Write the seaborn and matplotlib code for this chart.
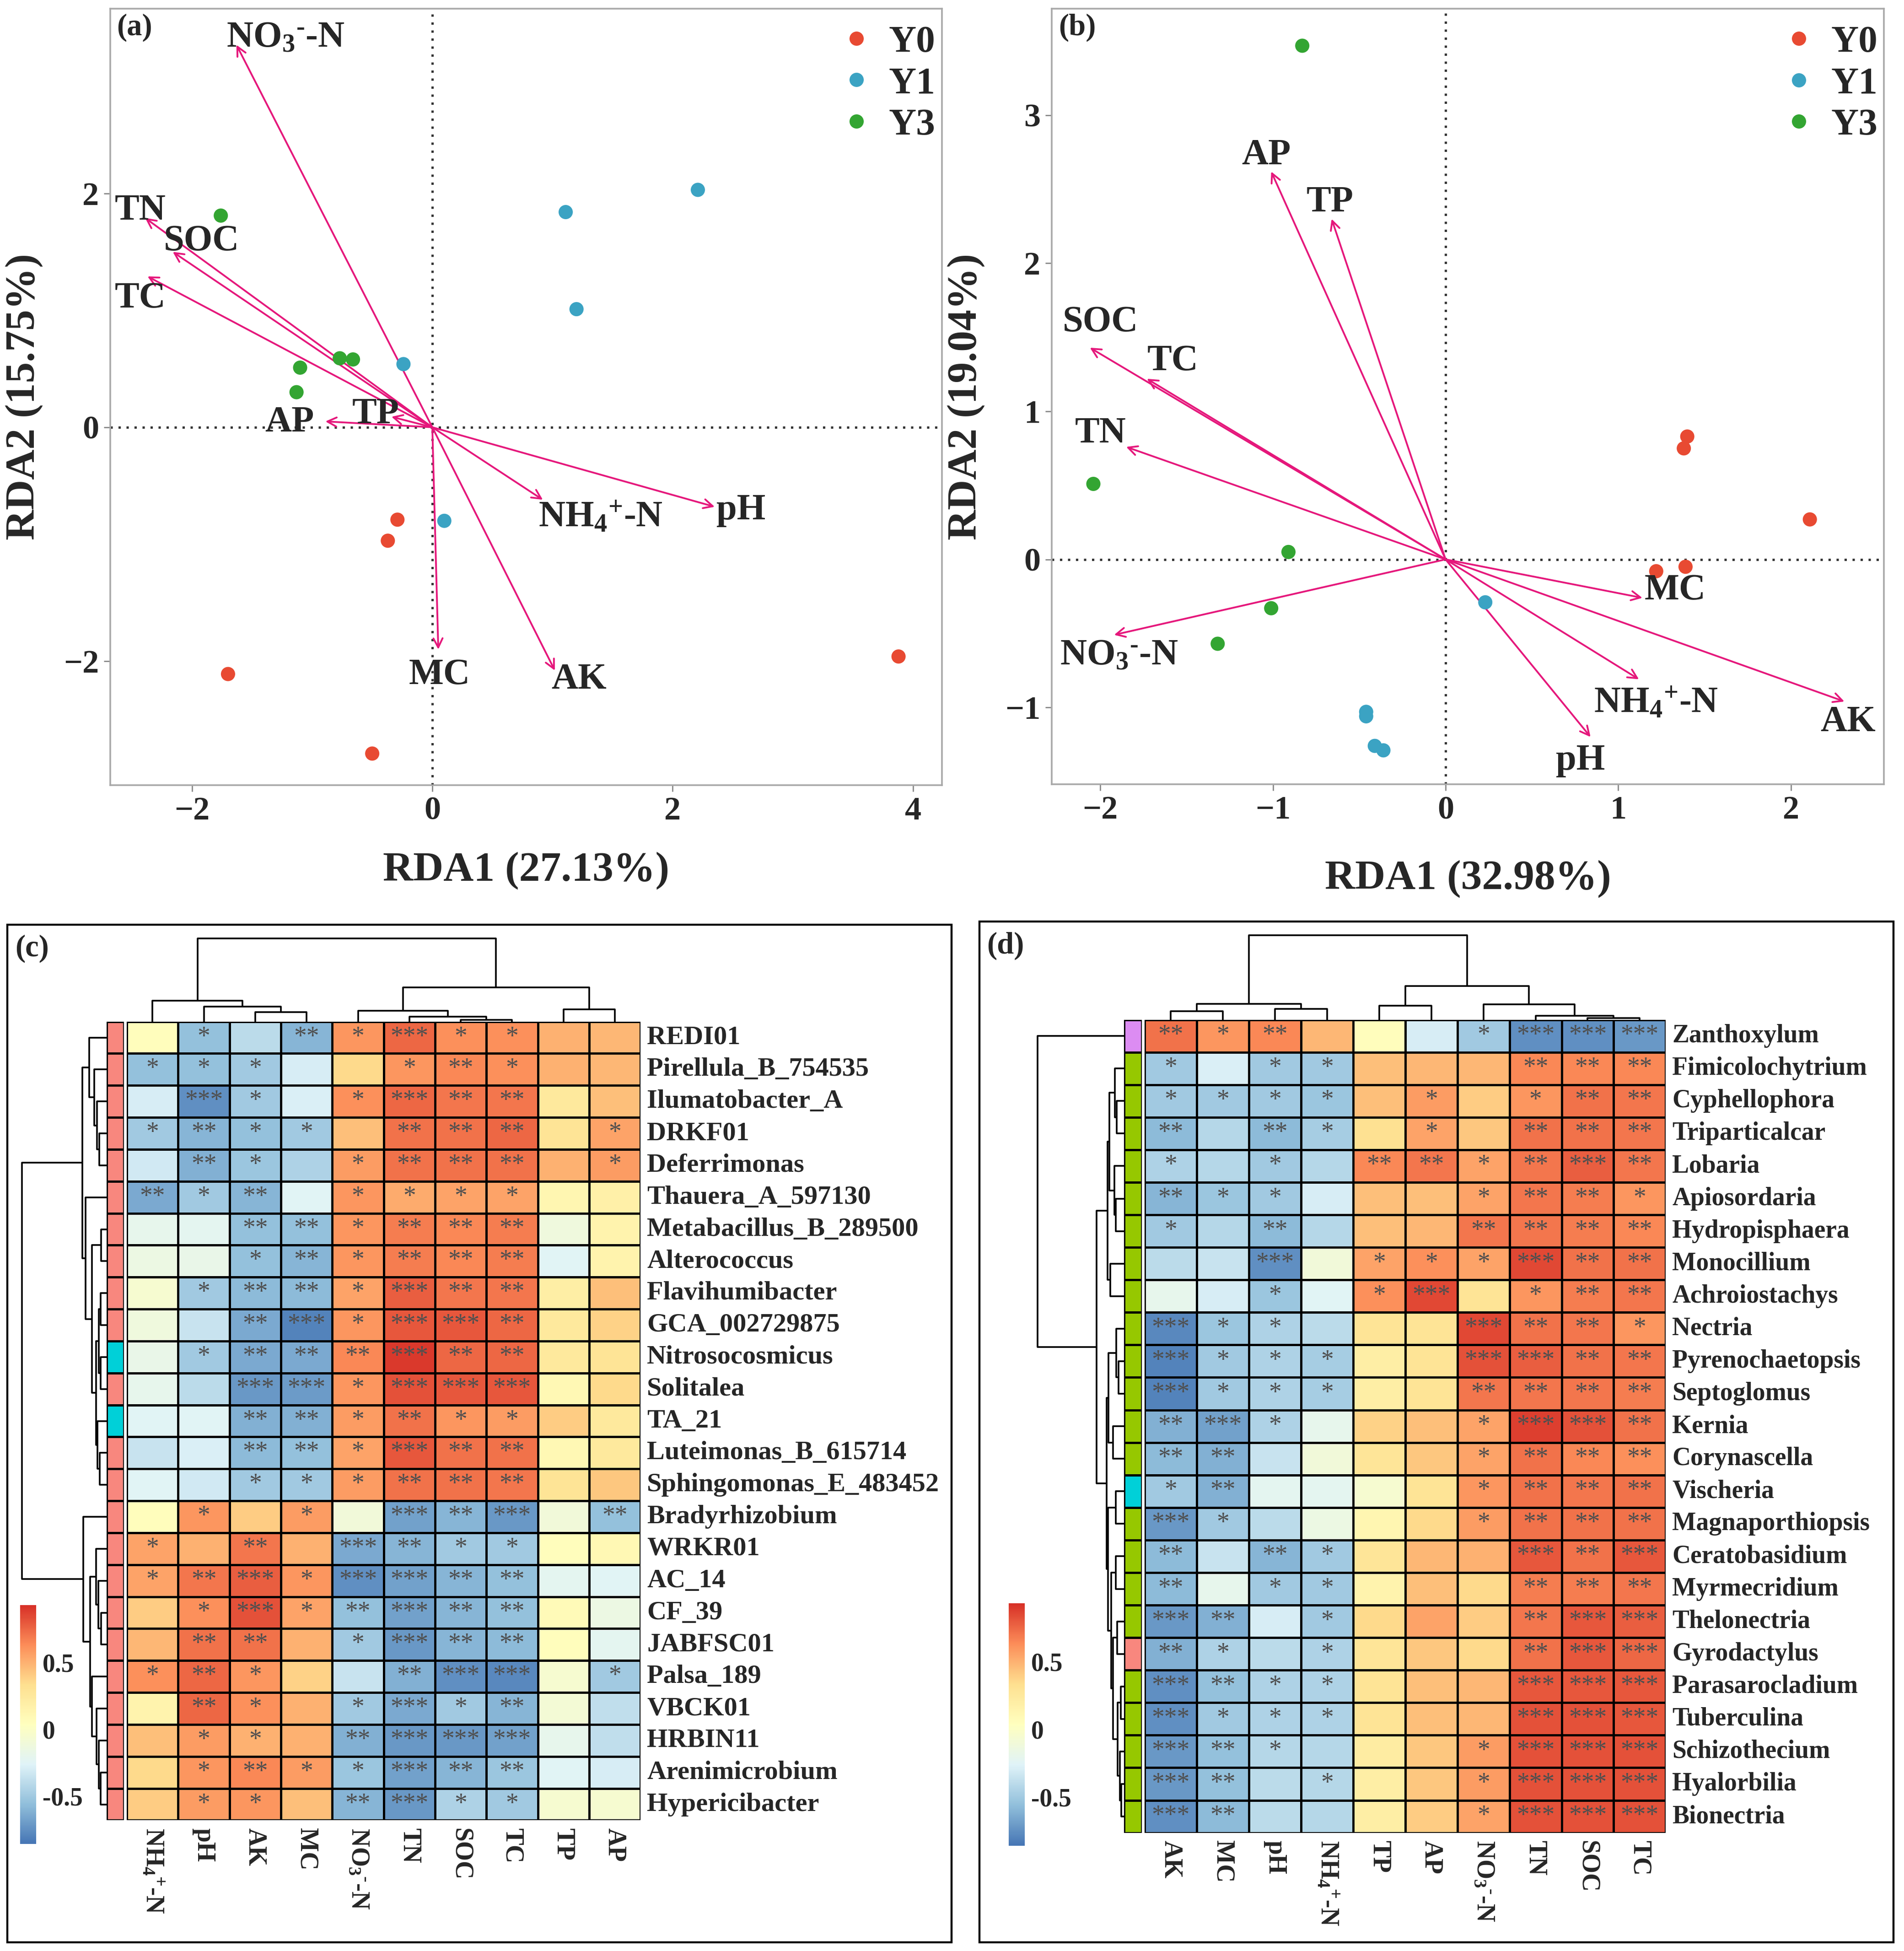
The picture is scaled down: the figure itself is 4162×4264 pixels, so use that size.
import numpy as np
import pandas as pd
import matplotlib
matplotlib.use("Agg")
import matplotlib.pyplot as plt
from matplotlib.colors import LinearSegmentedColormap, ListedColormap
import seaborn as sns

# ---------------- data: RDA panels ----------------
a_groups = ["Y0"] * 5 + ["Y1"] * 5 + ["Y3"] * 5
a_x = [-0.29, -0.37, -1.70, -0.50, 3.88, 2.21, 1.11, 1.20, -0.24, 0.10,
       -1.76, -1.10, -1.13, -0.77, -0.66]
a_y = [-0.79, -0.97, -2.11, -2.79, -1.96, 2.03, 1.84, 1.01, 0.54, -0.80,
       1.81, 0.51, 0.30, 0.59, 0.58]
a_env = ["NO3", "TN", "SOC", "TC", "AP", "TP", "NH4", "pH", "MC", "AK"]
a_env_x = [-1.63, -2.39, -2.16, -2.37, -0.89, -0.34, 0.92, 2.35, 0.05, 1.02]
a_env_y = [3.27, 1.79, 1.50, 1.29, 0.05, 0.09, -0.62, -0.68, -1.90, -2.08]
a_lab_x = [-1.22, -2.43, -1.92, -2.43, -1.19, -0.47, 1.40, 2.57, 0.06, 1.22]
a_lab_y = [3.33, 1.85, 1.59, 1.10, 0.04, 0.11, -0.77, -0.71, -2.12, -2.16]

b_groups = ["Y0"] * 5 + ["Y1"] * 5 + ["Y3"] * 5
b_x = [1.40, 1.38, 2.11, 1.22, 1.39, 0.23, -0.46, -0.46, -0.41, -0.36,
       -0.83, -2.04, -0.91, -1.01, -1.32]
b_y = [0.83, 0.75, 0.27, -0.08, -0.05, -0.29, -1.03, -1.06, -1.26, -1.29,
       3.47, 0.51, 0.05, -0.33, -0.57]
b_env = ["AP", "TP", "SOC", "TC", "TN", "NO3", "MC", "NH4", "pH", "AK"]
b_env_x = [-1.01, -0.66, -2.06, -1.73, -1.85, -1.92, 1.14, 1.12, 0.84, 2.31]
b_env_y = [2.62, 2.30, 1.43, 1.22, 0.76, -0.51, -0.26, -0.81, -1.20, -0.96]
b_lab_x = [-1.04, -0.67, -2.00, -1.58, -2.00, -1.89, 1.33, 1.22, 0.78, 2.33]
b_lab_y = [2.73, 2.41, 1.60, 1.34, 0.85, -0.65, -0.21, -0.97, -1.36, -1.10]

env_names = {"NO3": r"NO$_3$$^{\text{-}}$-N", "NH4": r"NH$_4$$^{\text{+}}$-N"}

# ---------------- data: heatmap (c) ----------------
c_rows = ["REDI01", "Pirellula_B_754535", "Ilumatobacter_A", "DRKF01", "Deferrimonas",
          "Thauera_A_597130", "Metabacillus_B_289500", "Alterococcus", "Flavihumibacter",
          "GCA_002729875", "Nitrosocosmicus", "Solitalea", "TA_21", "Luteimonas_B_615714",
          "Sphingomonas_E_483452", "Bradyrhizobium", "WRKR01", "AC_14", "CF_39", "JABFSC01",
          "Palsa_189", "VBCK01", "HRBIN11", "Arenimicrobium", "Hypericibacter"]
c_cols = ["NH4", "pH", "AK", "MC", "NO3", "TN", "SOC", "TC", "TP", "AP"]
c_vals = [
    [0.05, -0.55, -0.40, -0.60, 0.60, 0.75, 0.62, 0.62, 0.50, 0.48],
    [-0.55, -0.55, -0.50, -0.30, 0.35, 0.60, 0.65, 0.62, 0.50, 0.48],
    [-0.30, -0.75, -0.50, -0.28, 0.62, 0.75, 0.70, 0.70, 0.25, 0.45],
    [-0.50, -0.60, -0.55, -0.50, 0.45, 0.72, 0.72, 0.75, 0.30, 0.55],
    [-0.32, -0.62, -0.52, -0.45, 0.58, 0.72, 0.72, 0.72, 0.50, 0.58],
    [-0.65, -0.50, -0.60, -0.25, 0.60, 0.52, 0.55, 0.55, 0.12, 0.18],
    [-0.20, -0.22, -0.55, -0.55, 0.60, 0.68, 0.65, 0.68, -0.12, 0.15],
    [-0.15, -0.18, -0.55, -0.60, 0.60, 0.68, 0.65, 0.68, -0.25, 0.15],
    [-0.05, -0.50, -0.58, -0.58, 0.55, 0.78, 0.70, 0.70, 0.20, 0.45],
    [-0.12, -0.35, -0.65, -0.80, 0.60, 0.80, 0.80, 0.75, 0.25, 0.38],
    [-0.18, -0.50, -0.65, -0.65, 0.65, 0.90, 0.75, 0.75, 0.25, 0.30],
    [-0.20, -0.40, -0.72, -0.70, 0.60, 0.82, 0.80, 0.80, 0.10, 0.35],
    [-0.25, -0.25, -0.62, -0.62, 0.58, 0.72, 0.60, 0.58, 0.40, 0.25],
    [-0.35, -0.28, -0.58, -0.55, 0.55, 0.80, 0.72, 0.72, 0.10, 0.25],
    [-0.25, -0.32, -0.50, -0.50, 0.58, 0.72, 0.72, 0.70, 0.30, 0.42],
    [0.05, 0.60, 0.40, 0.58, -0.10, -0.68, -0.60, -0.72, -0.10, -0.55],
    [0.55, 0.50, 0.70, 0.50, -0.65, -0.60, -0.50, -0.50, 0.05, 0.10],
    [0.55, 0.70, 0.78, 0.60, -0.75, -0.68, -0.60, -0.55, -0.22, -0.25],
    [0.40, 0.62, 0.82, 0.55, -0.55, -0.68, -0.60, -0.55, 0.08, -0.15],
    [0.48, 0.72, 0.72, 0.50, -0.50, -0.72, -0.60, -0.58, 0.05, -0.22],
    [0.62, 0.75, 0.60, 0.38, -0.35, -0.62, -0.75, -0.78, -0.05, -0.50],
    [0.15, 0.75, 0.62, 0.50, -0.50, -0.65, -0.50, -0.60, -0.08, -0.38],
    [0.45, 0.58, 0.50, 0.50, -0.62, -0.72, -0.72, -0.68, -0.20, -0.38],
    [0.35, 0.60, 0.65, 0.58, -0.52, -0.68, -0.60, -0.52, -0.25, -0.30],
    [0.40, 0.58, 0.60, 0.45, -0.60, -0.72, -0.45, -0.50, -0.05, -0.05],
]
c_stars = [
    "- * - ** * *** * * - -",
    "* * * - - * ** * - -",
    "- *** * - * *** ** ** - -",
    "* ** * * - ** ** ** - *",
    "- ** * - * ** ** ** - *",
    "** * ** - * * * * - -",
    "- - ** ** * ** ** ** - -",
    "- - * ** * ** ** ** - -",
    "- * ** ** * *** ** ** - -",
    "- - ** *** * *** *** ** - -",
    "- * ** ** ** *** ** ** - -",
    "- - *** *** * *** *** *** - -",
    "- - ** ** * ** * * - -",
    "- - ** ** * *** ** ** - -",
    "- - * * * ** ** ** - -",
    "- * - * - *** ** *** - **",
    "* - ** - *** ** * * - -",
    "* ** *** * *** *** ** ** - -",
    "- * *** * ** *** ** ** - -",
    "- ** ** - * *** ** ** - -",
    "* ** * - - ** *** *** - *",
    "- ** * - * *** * ** - -",
    "- * * - ** *** *** *** - -",
    "- * ** * * *** ** ** - -",
    "- * * - ** *** * * - -",
]
c_group = [0] * 10 + [1, 0, 1] + [0] * 12
c_group_colors = ["#F8877E", "#00D0D8"]
# dendrograms: (height, left, right), leaves are row / column indices
c_row_tree = (68.8,
              (20.0, (14.3, 0, (10.0, 1, (7.8, 2, (6.0, 3, 4)))),
               (17.4, 5, (12.0, (4.5, 6, 7),
                          (8.8, (6.5, (5.1, 8, 9), (5.0, 10, 11)), (7.5, 12, (5.6, 13, 14)))))),
              (19.0, 15, (13.6, (8.8, 16, (7.0, 17, (4.5, 18, 19))),
                          (11.9, 20, (8.2, 21, (6.3, 22, (5.1, 23, 24)))))))
c_col_tree = (247, (62, 0, (45, 1, (28, 2, 3))), (102, (32, 4, (15, 5, (5, 6, 7))), (36, 8, 9)))

# ---------------- data: heatmap (d) ----------------
d_rows = ["Zanthoxylum", "Fimicolochytrium", "Cyphellophora", "Triparticalcar", "Lobaria",
          "Apiosordaria", "Hydropisphaera", "Monocillium", "Achroiostachys", "Nectria",
          "Pyrenochaetopsis", "Septoglomus", "Kernia", "Corynascella", "Vischeria",
          "Magnaporthiopsis", "Ceratobasidium", "Myrmecridium", "Thelonectria", "Gyrodactylus",
          "Parasarocladium", "Tuberculina", "Schizothecium", "Hyalorbilia", "Bionectria"]
d_cols = ["AK", "MC", "pH", "NH4", "TP", "AP", "NO3", "TN", "SOC", "TC"]
d_vals = [
    [0.72, 0.60, 0.65, 0.48, 0.05, -0.30, -0.50, -0.75, -0.75, -0.72],
    [-0.50, -0.28, -0.50, -0.50, 0.45, 0.48, 0.48, 0.65, 0.65, 0.65],
    [-0.50, -0.50, -0.50, -0.52, 0.45, 0.58, 0.40, 0.60, 0.72, 0.70],
    [-0.58, -0.42, -0.58, -0.48, 0.32, 0.55, 0.42, 0.72, 0.72, 0.70],
    [-0.45, -0.42, -0.50, -0.42, 0.65, 0.70, 0.55, 0.70, 0.78, 0.70],
    [-0.60, -0.52, -0.50, -0.30, 0.45, 0.45, 0.55, 0.70, 0.68, 0.60],
    [-0.50, -0.42, -0.58, -0.42, 0.45, 0.48, 0.70, 0.70, 0.68, 0.65],
    [-0.40, -0.35, -0.75, -0.10, 0.55, 0.62, 0.55, 0.85, 0.72, 0.72],
    [-0.20, -0.30, -0.52, -0.25, 0.62, 0.85, 0.30, 0.60, 0.68, 0.70],
    [-0.78, -0.52, -0.45, -0.40, 0.30, 0.30, 0.85, 0.72, 0.70, 0.60],
    [-0.80, -0.50, -0.45, -0.48, 0.20, 0.30, 0.82, 0.78, 0.72, 0.70],
    [-0.80, -0.50, -0.45, -0.48, 0.20, 0.30, 0.70, 0.70, 0.70, 0.68],
    [-0.62, -0.68, -0.45, -0.20, 0.38, 0.45, 0.55, 0.88, 0.82, 0.72],
    [-0.58, -0.62, -0.35, -0.10, 0.28, 0.42, 0.55, 0.72, 0.65, 0.62],
    [-0.50, -0.62, -0.22, -0.22, -0.05, 0.30, 0.60, 0.72, 0.70, 0.72],
    [-0.72, -0.50, -0.40, -0.15, 0.12, 0.35, 0.58, 0.72, 0.72, 0.72],
    [-0.58, -0.35, -0.60, -0.50, 0.28, 0.48, 0.50, 0.80, 0.72, 0.80],
    [-0.58, -0.20, -0.50, -0.50, 0.15, 0.45, 0.35, 0.68, 0.68, 0.70],
    [-0.72, -0.62, -0.30, -0.50, 0.35, 0.55, 0.40, 0.70, 0.80, 0.78],
    [-0.62, -0.45, -0.40, -0.45, 0.28, 0.42, 0.35, 0.72, 0.80, 0.75],
    [-0.75, -0.55, -0.45, -0.45, 0.30, 0.45, 0.48, 0.80, 0.80, 0.80],
    [-0.75, -0.50, -0.45, -0.45, 0.30, 0.45, 0.48, 0.82, 0.82, 0.80],
    [-0.72, -0.55, -0.42, -0.42, 0.22, 0.42, 0.58, 0.82, 0.82, 0.82],
    [-0.72, -0.55, -0.40, -0.42, 0.20, 0.42, 0.58, 0.82, 0.82, 0.82],
    [-0.75, -0.58, -0.40, -0.42, 0.20, 0.40, 0.55, 0.82, 0.82, 0.82],
]
d_stars = [
    "** * ** - - - * *** *** ***",
    "* - * * - - - ** ** **",
    "* * * * - * - * ** **",
    "** - ** * - * - ** ** **",
    "* - * - ** ** * ** *** **",
    "** * * - - - * ** ** *",
    "* - ** - - - ** ** ** **",
    "- - *** - * * * *** ** **",
    "- - * - * *** - * ** **",
    "*** * * - - - *** ** ** *",
    "*** * * * - - *** *** ** **",
    "*** * * * - - ** ** ** **",
    "** *** * - - - * *** *** **",
    "** ** - - - - * ** ** **",
    "* ** - - - - * ** ** **",
    "*** * - - - - * ** ** **",
    "** - ** * - - - *** ** ***",
    "** - * * - - - ** ** **",
    "*** ** - * - - - ** *** ***",
    "** * - * - - - ** *** ***",
    "*** ** * * - - - *** *** ***",
    "*** * * * - - - *** *** ***",
    "*** ** * - - - * *** *** ***",
    "*** ** - * - - * *** *** ***",
    "*** ** - - - - * *** *** ***",
]
d_group = [0] + [1] * 13 + [2] + [1] * 4 + [3] + [1] * 5
d_group_colors = ["#DC8CF2", "#96C800", "#00D0D8", "#F8877E"]
d_row_tree = (69.9, 0,
              (22.1,
               (13.2, (11.6, (7.4, 1, (5.9, 2, 3)), (7.6, 4, (6.4, 5, 6))), (11.0, 7, 8)),
               (14.1,
                (12.5, (6.1, 9, (4.3, 10, 11)), (8.6, 12, 13)),
                (12.9, (6.7, 14, 15),
                 (10.4, (6.7, 16, 17),
                  (8.6, (5.6, 18, 19), (5.0, (2.5, 20, 21), (3.2, 22, (2.2, 23, 24)))))))))
d_col_tree = (254, (47, (26, 0, 1), (33, 2, 3)), (101, (42, 4, 5), (46, 6, (12, 7, (5, 8, 9)))))

# ---------------- style ----------------
sns.set_theme(style="white")
plt.rcParams["font.family"] = ["Liberation Serif", "DejaVu Serif"]
plt.rcParams["font.weight"] = "bold"
plt.rcParams["mathtext.fontset"] = "custom"
plt.rcParams["mathtext.rm"] = "Liberation Serif:bold"
plt.rcParams["mathtext.it"] = "Liberation Serif:bold"
plt.rcParams["mathtext.bf"] = "Liberation Serif:bold"
plt.rcParams["mathtext.default"] = "rm"

pal = {"Y0": "#E84A32", "Y1": "#3BA3C3", "Y3": "#33A532"}
arrow_col = "#E5177B"
heat_cmap = LinearSegmentedColormap.from_list(
    "pheat", ["#4575B4", "#91BFDB", "#E0F3F8", "#FFFFBF", "#FEE090", "#FC8D59", "#D73027"])
VMIN, VMAX = -0.86, 0.93

W, H = 1530.0, 1568.0  # reference measured in screen px


def rect(x0, y0, x1, y1):
    return [x0 / W, 1 - y1 / H, (x1 - x0) / W, (y1 - y0) / H]


fig = plt.figure(figsize=(20.81, 21.32), dpi=200)


def label_of(k):
    return env_names.get(k, k)


def draw_rda(box, xs, ys, groups, env, ex, ey, lx, ly, xlim, ylim, xticks, yticks,
             xlabel, ylabel, tag, xpad):
    ax = fig.add_axes(rect(*box))
    ax.axhline(0, ls=(0, (1, 2.5)), color="#333333", lw=1.8, zorder=1)
    ax.axvline(0, ls=(0, (1, 2.5)), color="#333333", lw=1.8, zorder=1)
    df = pd.DataFrame({"x": xs, "y": ys, "group": groups})
    sns.scatterplot(data=df, x="x", y="y", hue="group", palette=pal, s=125,
                    linewidth=0, ax=ax, zorder=3)
    for k, tx, ty, px, py in zip(env, ex, ey, lx, ly):
        ax.annotate("", xy=(tx, ty), xytext=(0, 0),
                    arrowprops=dict(arrowstyle="->", color=arrow_col, lw=1.4,
                                    mutation_scale=18, shrinkA=0, shrinkB=0), zorder=2)
        ax.text(px, py, label_of(k), ha="center", va="center", fontsize=29,
                fontweight="bold", zorder=4)
    ax.set_xlim(*xlim)
    ax.set_ylim(*ylim)
    ax.set_xticks(xticks)
    ax.set_yticks(yticks)
    ax.tick_params(labelsize=26, length=5, width=1, color="#888888", pad=4,
                   bottom=True, left=True)
    for sp in ax.spines.values():
        sp.set_color("#A8A8A8")
        sp.set_linewidth(1.3)
    ax.set_xlabel(xlabel, fontsize=33, fontweight="bold", labelpad=xpad)
    ax.set_ylabel(ylabel, fontsize=33, fontweight="bold", labelpad=16)
    h, l = ax.get_legend_handles_labels()
    ax.legend(h, l, loc="upper right", bbox_to_anchor=(1.012, 1.0), frameon=False,
              fontsize=30, handletextpad=0.25, labelspacing=0.17, borderaxespad=0.03,
              handlelength=1.2, markerscale=1.0)
    ax.text(0.008, 0.994, tag, transform=ax.transAxes, ha="left", va="top",
            fontsize=24, fontweight="bold")
    return ax


draw_rda((88.6, 6.9, 756.8, 631), a_x, a_y, a_groups, a_env, a_env_x, a_env_y,
         a_lab_x, a_lab_y, (-2.68, 4.24), (-3.06, 3.58), [-2, 0, 2, 4], [-2, 0, 2],
         "RDA1 (27.13%)", "RDA2 (15.75%)", "(a)", 20)
draw_rda((845.3, 7.0, 1514.0, 630.4), b_x, b_y, b_groups, b_env, b_env_x, b_env_y,
         b_lab_x, b_lab_y, (-2.28, 2.54), (-1.52, 3.72), [-2, -1, 0, 1, 2],
         [-1, 0, 1, 2, 3], "RDA1 (32.98%)", "RDA2 (19.04%)", "(b)", 27)


def draw_tree(ax, tree, rows):
    segs = []

    def walk(n):
        if isinstance(n, int):
            return n + 0.5, 0.0
        h, left, right = n
        p1, h1 = walk(left)
        p2, h2 = walk(right)
        segs.append(([p1, p1, p2, p2], [h1, h, h, h2]))
        return (p1 + p2) / 2, h

    walk(tree)
    for ps, hs in segs:
        if rows:
            ax.plot(hs, ps, color="black", lw=1.3, solid_capstyle="butt")
        else:
            ax.plot(ps, hs, color="black", lw=1.3, solid_capstyle="butt")
    ax.axis("off")


def draw_heat(vals, stars, rows, cols, groups, gcolors, row_tree, col_tree,
              heat_box, ann_box, rd_box, cd_box, cb_box, frame_box, tag, row_fs):
    df = pd.DataFrame(vals, index=rows, columns=cols)
    annot = np.array([[s if s != "-" else "" for s in r.split()] for r in stars])
    ax = fig.add_axes(rect(*heat_box))
    sns.heatmap(df, ax=ax, cmap=heat_cmap, vmin=VMIN, vmax=VMAX, cbar=False,
                linewidths=1.1, linecolor="black", annot=annot, fmt="",
                annot_kws=dict(color="#4F4F4F", fontsize=20, fontweight="normal"))
    ax.yaxis.tick_right()
    ax.set_yticks(np.arange(len(rows)) + 0.5)
    ax.set_yticklabels(rows, rotation=0, fontsize=row_fs, fontweight="bold", va="center")
    ax.set_xticks(np.arange(len(cols)) + 0.5)
    ax.set_xticklabels([label_of(c) for c in cols], rotation=270, fontsize=20,
                       fontweight="bold", ha="center", va="top")
    ax.tick_params(axis="y", length=0, pad=5)
    ax.tick_params(axis="x", length=0, pad=6)
    ax.set_xlabel("")
    ax.set_ylabel("")

    # row annotation bar
    axa = fig.add_axes(rect(*ann_box))
    sns.heatmap(np.array(groups).reshape(-1, 1), ax=axa, cmap=ListedColormap(gcolors),
                vmin=-0.5, vmax=len(gcolors) - 0.5, cbar=False, linewidths=1.1,
                linecolor="black", xticklabels=False, yticklabels=False)

    # dendrograms
    axr = fig.add_axes(rect(*rd_box))
    draw_tree(axr, row_tree, True)
    axr.set_ylim(len(rows), 0)
    axr.set_xlim(row_tree[0] * 1.01, 0)
    axc = fig.add_axes(rect(*cd_box))
    draw_tree(axc, col_tree, False)
    axc.set_xlim(0, len(cols))
    axc.set_ylim(0, col_tree[0] * 1.01)

    # colour legend
    cax = fig.add_axes(rect(*cb_box))
    cb = fig.colorbar(ax.collections[0], cax=cax, ticks=[-0.5, 0, 0.5])
    cb.ax.set_yticklabels(["-0.5", "0", "0.5"])
    cb.outline.set_visible(False)
    cb.ax.tick_params(length=0, labelsize=20, pad=5)

    fr = rect(*frame_box)
    fig.add_artist(plt.Rectangle((fr[0], fr[1]), fr[2], fr[3], transform=fig.transFigure,
                                 fill=False, ec="black", lw=1.6))
    fig.text(fr[0] + 6 / W, fr[1] + fr[3] - 8 / H, tag, ha="left", va="top",
             fontsize=24, fontweight="bold")


draw_heat(c_vals, c_stars, c_rows, c_cols, c_group, c_group_colors, c_row_tree, c_col_tree,
          (101.9, 821, 514.7, 1463), (85.8, 821, 99.5, 1463), (17, 821, 85.8, 1463),
          (101.9, 753.5, 514.7, 821), (16, 1290, 29, 1482), (6, 743, 764.7, 1561),
          "(c)", 21)
draw_heat(d_vals, d_stars, d_rows, d_cols, d_group, d_group_colors, d_row_tree, d_col_tree,
          (919.9, 819.5, 1338.6, 1473), (903.1, 819.5, 917.4, 1473), (833, 819.5, 903.1, 1473),
          (919.9, 751, 1338.6, 819.5), (810.7, 1288.5, 823.5, 1483.6), (787, 740.7, 1521.6, 1561),
          "(d)", 20)

fig.savefig("out.png", dpi=200)
